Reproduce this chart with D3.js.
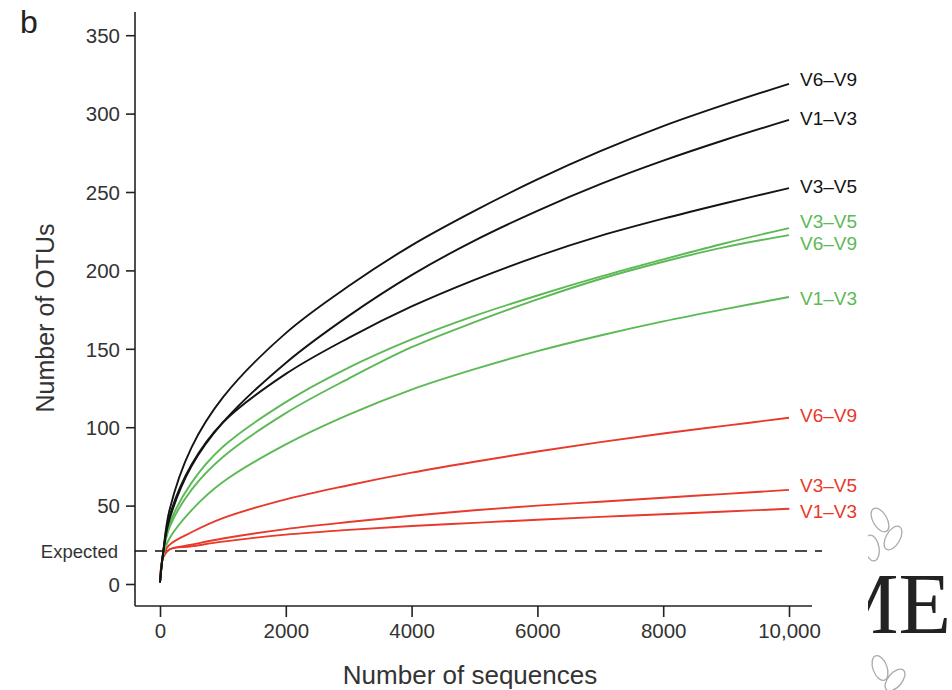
<!DOCTYPE html>
<html>
<head>
<meta charset="utf-8">
<script src="https://cdn.jsdelivr.net/npm/d3@7"></script>
<style>
html,body{margin:0;padding:0;background:#fff;}
svg{display:block;}
text{font-family:"Liberation Sans",Arial,Helvetica,sans-serif;}
</style>
</head>
<body>
<svg id="chart" width="952" height="690"></svg>
<script>
// ---- data ----
const sequences = [0, 50, 150, 500, 1000, 2000, 3000, 4000, 5000, 6000, 7000, 8000, 9000, 10000];
const seriesNames = ["V6–V9", "V1–V3", "V3–V5", "V3–V5", "V6–V9", "V1–V3", "V6–V9", "V3–V5", "V1–V3"];
const seriesGroups = ["black", "black", "black", "green", "green", "green", "red", "red", "red"];
const blackV6V9 = [1, 20, 47, 87, 119, 160, 190, 216, 238, 258, 276, 292, 306, 319];
const blackV1V3 = [1, 20, 41, 75, 103, 141, 171, 197, 219, 238, 255, 270, 283.5, 296];
const blackV3V5 = [1, 20, 43, 76, 103, 134, 157, 177, 194, 209, 222, 233, 243, 252.5];
const greenV3V5 = [1, 19, 38, 64.5, 87.5, 116, 138, 156, 171, 184, 196, 207, 217.5, 227];
const greenV6V9 = [1, 19, 36, 60, 81, 109, 131, 151, 167, 181.5, 194.5, 205.5, 215, 222.5];
const greenV1V3 = [1, 18, 29, 47, 65, 89, 108, 124, 137, 148.5, 158.5, 167.5, 175.5, 183];
const redV6V9 = [1, 18, 25, 33, 42, 54, 63, 71, 78, 84.5, 90.5, 96, 101, 106];
const redV3V5 = [1, 17, 22, 25, 29, 35, 39.5, 43.5, 47, 50, 52.5, 55, 57.5, 60];
const redV1V3 = [1, 17, 22, 24, 27, 31.5, 34.5, 37, 39, 41, 42.8, 44.5, 46.2, 48];
const seriesValues = [blackV6V9, blackV1V3, blackV3V5, greenV3V5, greenV6V9, greenV1V3, redV6V9, redV3V5, redV1V3];
const xTicks = [0, 2000, 4000, 6000, 8000, 10000];
const xTickLabels = ["0", "2000", "4000", "6000", "8000", "10,000"];
const yTicks = [0, 50, 100, 150, 200, 250, 300, 350];
const expectedValue = 21;

// ---- styles ----
const colors = {black: "#141414", green: "#5cb955", red: "#e8392b"};
const labelNudge = [-5, -2, -2, -7, 8, 1, -3, -5, 2];

const svg = d3.select("#chart");
const x = d3.scaleLinear().domain([0, 10000]).range([160, 789]);
const y = d3.scaleLinear().domain([0, 350]).range([584, 35.2]);

// axes
const yAxis = d3.axisLeft(y).tickValues(yTicks).tickSize(9).tickPadding(6);
const gy = svg.append("g").attr("transform", "translate(135,0)").call(yAxis);
gy.select(".domain").attr("d", "M0,12V606");
const xAxis = d3.axisBottom(x).tickValues(xTicks).tickSize(11).tickPadding(6)
  .tickFormat((d, i) => xTickLabels[i]);
const gx = svg.append("g").attr("transform", "translate(0,606)").call(xAxis);
gx.select(".domain").attr("d", "M135,0H812");
[gx, gy].forEach(g => {
  g.selectAll(".domain").attr("stroke", "#222").attr("stroke-width", 1.6);
  g.selectAll(".tick line").attr("stroke", "#222").attr("stroke-width", 1.6);
  g.selectAll(".tick text").attr("fill", "#333").style("font-size", "20.5px")
    .style("font-family", "'Liberation Sans', Arial, sans-serif");
});
gy.selectAll(".tick text").attr("dy", "0.36em");

// expected line
svg.append("line")
  .attr("x1", 135).attr("x2", 822)
  .attr("y1", y(expectedValue)).attr("y2", y(expectedValue))
  .attr("stroke", "#111").attr("stroke-width", 1.6)
  .attr("stroke-dasharray", "12,8");
svg.append("text").attr("x", 118).attr("y", y(expectedValue)).attr("dy", "0.36em")
  .attr("text-anchor", "end").attr("fill", "#333").style("font-size", "18.5px")
  .text("Expected");

// curves
const line = d3.line()
  .x((d, i) => x(sequences[i]))
  .y(d => y(d))
  .curve(d3.curveCatmullRom.alpha(0.5));
const order = [6, 7, 8, 3, 4, 5, 0, 1, 2];
order.forEach(k => {
  svg.append("path").datum(seriesValues[k])
    .attr("d", line)
    .attr("fill", "none")
    .attr("stroke", colors[seriesGroups[k]])
    .attr("stroke-width", 1.9)
    .attr("stroke-linejoin", "round");
});

// end labels
seriesValues.forEach((vals, k) => {
  svg.append("text")
    .attr("x", x(10000) + 11)
    .attr("y", y(vals[vals.length - 1]) + labelNudge[k])
    .attr("dy", "0.36em")
    .attr("fill", colors[seriesGroups[k]])
    .style("font-size", "19px")
    .text(seriesNames[k]);
});

// axis titles
svg.append("text").attr("x", 470).attr("y", 684).attr("text-anchor", "middle")
  .attr("fill", "#333").style("font-size", "26px").text("Number of sequences");
svg.append("text").attr("transform", "translate(54,318) rotate(-90)")
  .attr("text-anchor", "middle").attr("fill", "#333").style("font-size", "25px")
  .text("Number of OTUs");
svg.append("text").attr("x", 20).attr("y", 33).attr("fill", "#222")
  .style("font-size", "32px").text("b");

// watermark fragment (bottom right)
const defs = svg.append("defs");
defs.append("clipPath").attr("id", "wm").append("rect")
  .attr("x", 868).attr("y", 497).attr("width", 84).attr("height", 193);
const wm = svg.append("g").attr("clip-path", "url(#wm)");
wm.append("text").attr("x", 951).attr("y", 633).attr("text-anchor", "end")
  .attr("fill", "#222").style("font-family", "'Liberation Serif', 'DejaVu Serif', serif")
  .style("font-size", "86px").text("ME");
const leaves = [[880, 520, -30], [893, 538, 30], [872, 548, -10], [880, 668, -20], [895, 680, 40]];
leaves.forEach(l => {
  wm.append("ellipse").attr("cx", l[0]).attr("cy", l[1]).attr("rx", 7).attr("ry", 13)
    .attr("transform", `rotate(${l[2]},${l[0]},${l[1]})`)
    .attr("fill", "none").attr("stroke", "#aaa").attr("stroke-width", 1.3);
});
</script>
</body>
</html>
